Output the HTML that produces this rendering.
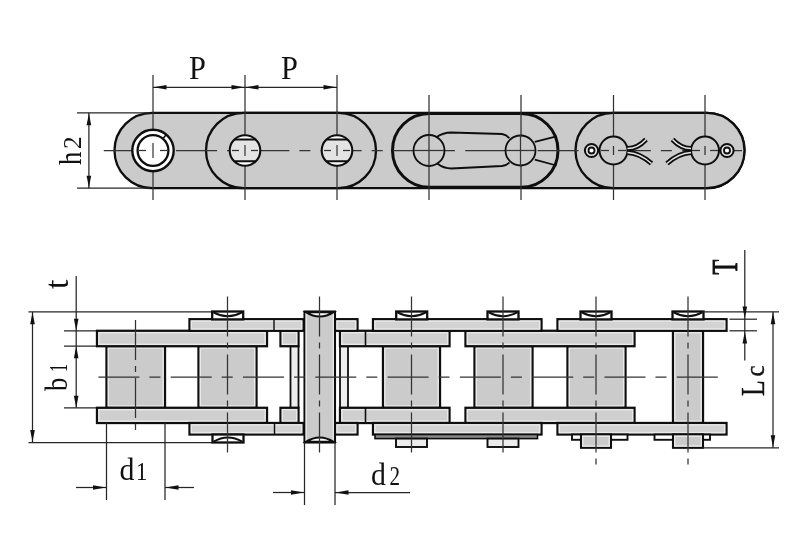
<!DOCTYPE html>
<html><head><meta charset="utf-8"><style>
html,body{margin:0;padding:0;background:#fff;width:800px;height:533px;overflow:hidden}
svg{display:block;will-change:transform}
text{font-family:"Liberation Serif",serif}
</style></head><body>
<svg width="800" height="533" viewBox="0 0 800 533"><rect x="114.5" y="112.8" width="630.0" height="75.4" rx="37.7" ry="37.7" fill="#cbcbcb" stroke="#0e0e0e" stroke-width="2.3"/>
<rect x="206" y="112.8" width="170" height="75.4" rx="37.7" ry="37.7" fill="#cbcbcb" stroke="#0e0e0e" stroke-width="2.3"/>
<rect x="392.5" y="113.5" width="165.5" height="73.8" rx="36.9" ry="36.9" fill="#cbcbcb" stroke="#0e0e0e" stroke-width="3.0"/>
<rect x="575.5" y="112.8" width="169.0" height="75.4" rx="37.7" ry="37.7" fill="#cbcbcb" stroke="#0e0e0e" stroke-width="2.3"/>
<line x1="77" y1="112.8" x2="150" y2="112.8" stroke="#262626" stroke-width="1.25"/>
<line x1="77" y1="188.2" x2="150" y2="188.2" stroke="#262626" stroke-width="1.25"/>
<line x1="103.75" y1="150.5" x2="742" y2="150.5" stroke="#333333" stroke-width="1.25" stroke-dasharray="41 10 11 10.3"/>
<line x1="153" y1="75" x2="153" y2="200" stroke="#333333" stroke-width="1.25"/>
<line x1="245" y1="75" x2="245" y2="200" stroke="#333333" stroke-width="1.25"/>
<line x1="337" y1="75" x2="337" y2="200" stroke="#333333" stroke-width="1.25"/>
<line x1="429" y1="95" x2="429" y2="200" stroke="#333333" stroke-width="1.25"/>
<line x1="521" y1="95" x2="521" y2="200" stroke="#333333" stroke-width="1.25"/>
<line x1="153" y1="87.3" x2="337" y2="87.3" stroke="#262626" stroke-width="1.25"/>
<polygon points="153.50,87.30 166.50,85.00 166.50,89.60" fill="#111"/>
<polygon points="244.50,87.30 231.50,85.00 231.50,89.60" fill="#111"/>
<polygon points="245.50,87.30 258.50,85.00 258.50,89.60" fill="#111"/>
<polygon points="336.50,87.30 323.50,85.00 323.50,89.60" fill="#111"/>
<line x1="88.9" y1="112.8" x2="88.9" y2="188.2" stroke="#262626" stroke-width="1.25"/>
<polygon points="88.90,113.30 86.60,125.30 91.20,125.30" fill="#111"/>
<polygon points="88.90,187.70 86.60,175.70 91.20,175.70" fill="#111"/>
<circle cx="153" cy="150.5" r="20.7" fill="#ffffff" stroke="#0e0e0e" stroke-width="2.4"/>
<circle cx="153" cy="150.5" r="15.4" fill="#ffffff" stroke="#0e0e0e" stroke-width="2.3"/>
<line x1="162.6" y1="139.0" x2="166.4" y2="134.6" stroke="#0e0e0e" stroke-width="1.6"/>
<line x1="153" y1="143" x2="153" y2="158" stroke="#333333" stroke-width="1.2"/>
<line x1="139" y1="150.5" x2="146" y2="150.5" stroke="#333333" stroke-width="1.25"/>
<line x1="160" y1="150.5" x2="167" y2="150.5" stroke="#333333" stroke-width="1.25"/>
<clipPath id="h245"><circle cx="245" cy="150.5" r="15.3"/></clipPath>
<circle cx="245" cy="150.5" r="15.3" fill="#ffffff" stroke="#0e0e0e" stroke-width="0"/>
<rect x="229" y="139.5" width="32" height="21.8" fill="#e4e4e4" clip-path="url(#h245)"/>
<g clip-path="url(#h245)">
<line x1="229" y1="139.5" x2="261" y2="139.5" stroke="#0e0e0e" stroke-width="2.0"/>
<line x1="229" y1="161.3" x2="261" y2="161.3" stroke="#0e0e0e" stroke-width="2.0"/>
</g>
<circle cx="245" cy="150.5" r="15.3" fill="none" stroke="#0e0e0e" stroke-width="2.1"/>
<line x1="245" y1="145" x2="245" y2="156" stroke="#333333" stroke-width="1.2"/>
<line x1="232" y1="150.5" x2="239" y2="150.5" stroke="#333333" stroke-width="1.25"/>
<line x1="251" y1="150.5" x2="258" y2="150.5" stroke="#333333" stroke-width="1.25"/>
<clipPath id="h337"><circle cx="337" cy="150.5" r="15.3"/></clipPath>
<circle cx="337" cy="150.5" r="15.3" fill="#ffffff" stroke="#0e0e0e" stroke-width="0"/>
<rect x="321" y="139.5" width="32" height="21.8" fill="#e4e4e4" clip-path="url(#h337)"/>
<g clip-path="url(#h337)">
<line x1="321" y1="139.5" x2="353" y2="139.5" stroke="#0e0e0e" stroke-width="2.0"/>
<line x1="321" y1="161.3" x2="353" y2="161.3" stroke="#0e0e0e" stroke-width="2.0"/>
</g>
<circle cx="337" cy="150.5" r="15.3" fill="none" stroke="#0e0e0e" stroke-width="2.1"/>
<line x1="337" y1="145" x2="337" y2="156" stroke="#333333" stroke-width="1.2"/>
<line x1="324" y1="150.5" x2="331" y2="150.5" stroke="#333333" stroke-width="1.25"/>
<line x1="343" y1="150.5" x2="350" y2="150.5" stroke="#333333" stroke-width="1.25"/>
<circle cx="429" cy="150.5" r="15.5" fill="#cbcbcb" stroke="#0e0e0e" stroke-width="1.8"/>
<circle cx="520.5" cy="150.5" r="15.0" fill="#cbcbcb" stroke="#0e0e0e" stroke-width="1.8"/>
<path d="M436.3,137.2 C441,134 445,132.5 451,132.5 L502,134 C505,134.5 507.5,136 509.4,138.3" fill="none" stroke="#0e0e0e" stroke-width="1.8"/>
<path d="M437.2,163.5 C441.5,166.8 446,168.5 451.3,168.5 L502,166 C505,165.5 507.5,164.5 509.4,162.5" fill="none" stroke="#0e0e0e" stroke-width="1.8"/>
<path d="M534.8,141.9 L556.5,136.3 M534.8,159.7 L556.5,165.5" fill="none" stroke="#0e0e0e" stroke-width="1.8"/>
<line x1="429" y1="135" x2="429" y2="166" stroke="#333333" stroke-width="1.25"/>
<line x1="414" y1="150.5" x2="444" y2="150.5" stroke="#333333" stroke-width="1.25"/>
<line x1="520.5" y1="135" x2="520.5" y2="166" stroke="#333333" stroke-width="1.25"/>
<line x1="506" y1="150.5" x2="535" y2="150.5" stroke="#333333" stroke-width="1.25"/>
<line x1="613.5" y1="95" x2="613.5" y2="200" stroke="#333333" stroke-width="1.25"/>
<line x1="705" y1="95" x2="705" y2="200" stroke="#333333" stroke-width="1.25"/>
<circle cx="591.5" cy="150.5" r="6.6" fill="#e4e4e4" stroke="#0e0e0e" stroke-width="2.0"/>
<circle cx="591.5" cy="150.5" r="3.0" fill="#ffffff" stroke="#0e0e0e" stroke-width="1.8"/>
<circle cx="727" cy="150.5" r="6.6" fill="#e4e4e4" stroke="#0e0e0e" stroke-width="2.0"/>
<circle cx="727" cy="150.5" r="3.0" fill="#ffffff" stroke="#0e0e0e" stroke-width="1.8"/>
<circle cx="613.5" cy="150.5" r="14" fill="#cbcbcb" stroke="#0e0e0e" stroke-width="2.0"/>
<circle cx="705" cy="150.5" r="14" fill="#cbcbcb" stroke="#0e0e0e" stroke-width="2.0"/>
<line x1="613.5" y1="146" x2="613.5" y2="155" stroke="#333333" stroke-width="1.25"/>
<line x1="601" y1="150.5" x2="609" y2="150.5" stroke="#333333" stroke-width="1.25"/>
<line x1="618" y1="150.5" x2="626" y2="150.5" stroke="#333333" stroke-width="1.25"/>
<line x1="705" y1="146" x2="705" y2="155" stroke="#333333" stroke-width="1.25"/>
<line x1="692" y1="150.5" x2="700" y2="150.5" stroke="#333333" stroke-width="1.25"/>
<line x1="710" y1="150.5" x2="718" y2="150.5" stroke="#333333" stroke-width="1.25"/>
<path d="M627.5,148.6 C634.5,148.5 640.5,145.5 646.0,139.5" fill="none" stroke="#0e0e0e" stroke-width="5.0" stroke-linecap="butt"/>
<path d="M627.5,152.4 C636.5,153.0 644.5,157.0 651.5,163.5" fill="none" stroke="#0e0e0e" stroke-width="5.0" stroke-linecap="butt"/>
<path d="M627.5,148.6 C634.5,148.5 640.5,145.5 646.0,139.5" fill="none" stroke="#e4e4e4" stroke-width="1.5" stroke-linecap="butt"/>
<path d="M627.5,152.4 C636.5,153.0 644.5,157.0 651.5,163.5" fill="none" stroke="#e4e4e4" stroke-width="1.5" stroke-linecap="butt"/>
<path d="M691,148.6 C684,148.5 678,145.5 672.5,139.5" fill="none" stroke="#0e0e0e" stroke-width="5.0" stroke-linecap="butt"/>
<path d="M691,152.4 C682,153.0 674,157.0 667,163.5" fill="none" stroke="#0e0e0e" stroke-width="5.0" stroke-linecap="butt"/>
<path d="M691,148.6 C684,148.5 678,145.5 672.5,139.5" fill="none" stroke="#e4e4e4" stroke-width="1.5" stroke-linecap="butt"/>
<path d="M691,152.4 C682,153.0 674,157.0 667,163.5" fill="none" stroke="#e4e4e4" stroke-width="1.5" stroke-linecap="butt"/>
<line x1="28.5" y1="311.8" x2="212" y2="311.8" stroke="#262626" stroke-width="1.25"/>
<line x1="28.5" y1="442.5" x2="212" y2="442.5" stroke="#262626" stroke-width="1.25"/>
<line x1="64" y1="330.8" x2="97" y2="330.8" stroke="#262626" stroke-width="1.25"/>
<line x1="64" y1="346.2" x2="106" y2="346.2" stroke="#262626" stroke-width="1.25"/>
<line x1="64" y1="407.8" x2="106" y2="407.8" stroke="#262626" stroke-width="1.25"/>
<rect x="106.5" y="346.2" width="58.5" height="61.6" fill="#cbcbcb" stroke="#0e0e0e" stroke-width="2.3"/>
<rect x="108.35" y="348.05" width="54.8" height="57.9" fill="none" stroke="#e8e8e8" stroke-width="1.4"/>
<rect x="198.5" y="346.2" width="58.0" height="61.6" fill="#cbcbcb" stroke="#0e0e0e" stroke-width="2.3"/>
<rect x="200.35" y="348.05" width="54.3" height="57.9" fill="none" stroke="#e8e8e8" stroke-width="1.4"/>
<rect x="383" y="346.2" width="57" height="61.6" fill="#cbcbcb" stroke="#0e0e0e" stroke-width="2.3"/>
<rect x="384.85" y="348.05" width="53.3" height="57.9" fill="none" stroke="#e8e8e8" stroke-width="1.4"/>
<rect x="474.5" y="346.2" width="58.0" height="61.6" fill="#cbcbcb" stroke="#0e0e0e" stroke-width="2.3"/>
<rect x="476.35" y="348.05" width="54.3" height="57.9" fill="none" stroke="#e8e8e8" stroke-width="1.4"/>
<rect x="567.5" y="346.2" width="58.0" height="61.6" fill="#cbcbcb" stroke="#0e0e0e" stroke-width="2.3"/>
<rect x="569.35" y="348.05" width="54.3" height="57.9" fill="none" stroke="#e8e8e8" stroke-width="1.4"/>
<rect x="290.5" y="346.2" width="8.0" height="61.6" fill="#eeeeee" stroke="#0e0e0e" stroke-width="1.8"/>
<rect x="340" y="346.2" width="8" height="61.6" fill="#eeeeee" stroke="#0e0e0e" stroke-width="1.8"/>
<rect x="673" y="330.8" width="30" height="92.2" fill="#cbcbcb" stroke="#0e0e0e" stroke-width="2.3"/>
<rect x="674.85" y="332.65" width="26.3" height="88.5" fill="none" stroke="#e8e8e8" stroke-width="1.4"/>
<rect x="97" y="330.8" width="170" height="15.4" fill="#cfcfcf" stroke="#0e0e0e" stroke-width="2.3"/>
<rect x="98.85" y="332.65" width="166.3" height="11.7" fill="none" stroke="#e8e8e8" stroke-width="1.4"/>
<rect x="97" y="407.8" width="170" height="15.2" fill="#cfcfcf" stroke="#0e0e0e" stroke-width="2.3"/>
<rect x="98.85" y="409.65" width="166.3" height="11.5" fill="none" stroke="#e8e8e8" stroke-width="1.4"/>
<rect x="280.5" y="330.8" width="18.0" height="15.4" fill="#cfcfcf" stroke="#0e0e0e" stroke-width="2.3"/>
<rect x="282.35" y="332.65" width="14.3" height="11.7" fill="none" stroke="#e8e8e8" stroke-width="1.4"/>
<rect x="280.5" y="407.8" width="18.0" height="15.2" fill="#cfcfcf" stroke="#0e0e0e" stroke-width="2.3"/>
<rect x="282.35" y="409.65" width="14.3" height="11.5" fill="none" stroke="#e8e8e8" stroke-width="1.4"/>
<rect x="340" y="330.8" width="109.5" height="15.4" fill="#cfcfcf" stroke="#0e0e0e" stroke-width="2.3"/>
<rect x="341.85" y="332.65" width="105.8" height="11.7" fill="none" stroke="#e8e8e8" stroke-width="1.4"/>
<rect x="340" y="407.8" width="109.5" height="15.2" fill="#cfcfcf" stroke="#0e0e0e" stroke-width="2.3"/>
<rect x="341.85" y="409.65" width="105.8" height="11.5" fill="none" stroke="#e8e8e8" stroke-width="1.4"/>
<rect x="465.5" y="330.8" width="169.0" height="15.4" fill="#cfcfcf" stroke="#0e0e0e" stroke-width="2.3"/>
<rect x="467.35" y="332.65" width="165.3" height="11.7" fill="none" stroke="#e8e8e8" stroke-width="1.4"/>
<rect x="465.5" y="407.8" width="169.0" height="15.2" fill="#cfcfcf" stroke="#0e0e0e" stroke-width="2.3"/>
<rect x="467.35" y="409.65" width="165.3" height="11.5" fill="none" stroke="#e8e8e8" stroke-width="1.4"/>
<line x1="365.5" y1="330.8" x2="365.5" y2="346.2" stroke="#0e0e0e" stroke-width="1.6"/>
<line x1="365.5" y1="407.8" x2="365.5" y2="423.0" stroke="#0e0e0e" stroke-width="1.6"/>
<rect x="189.5" y="319.2" width="114.0" height="11.6" fill="#d3d3d3" stroke="#0e0e0e" stroke-width="2.3"/>
<rect x="191.35" y="321.05" width="110.3" height="7.9" fill="none" stroke="#e8e8e8" stroke-width="1.4"/>
<rect x="189.5" y="423.0" width="114.0" height="11.5" fill="#d3d3d3" stroke="#0e0e0e" stroke-width="2.3"/>
<rect x="191.35" y="424.85" width="110.3" height="7.8" fill="none" stroke="#e8e8e8" stroke-width="1.4"/>
<rect x="335" y="319.2" width="22.5" height="11.6" fill="#d3d3d3" stroke="#0e0e0e" stroke-width="2.3"/>
<rect x="336.85" y="321.05" width="18.8" height="7.9" fill="none" stroke="#e8e8e8" stroke-width="1.4"/>
<rect x="335" y="423.0" width="22.5" height="11.5" fill="#d3d3d3" stroke="#0e0e0e" stroke-width="2.3"/>
<rect x="336.85" y="424.85" width="18.8" height="7.8" fill="none" stroke="#e8e8e8" stroke-width="1.4"/>
<rect x="373" y="319.2" width="168.5" height="11.6" fill="#d3d3d3" stroke="#0e0e0e" stroke-width="2.3"/>
<rect x="374.85" y="321.05" width="164.8" height="7.9" fill="none" stroke="#e8e8e8" stroke-width="1.4"/>
<rect x="373" y="423.0" width="168.5" height="11.5" fill="#d3d3d3" stroke="#0e0e0e" stroke-width="2.3"/>
<rect x="374.85" y="424.85" width="164.8" height="7.8" fill="none" stroke="#e8e8e8" stroke-width="1.4"/>
<rect x="557.5" y="319.2" width="169.0" height="11.6" fill="#d3d3d3" stroke="#0e0e0e" stroke-width="2.3"/>
<rect x="559.35" y="321.05" width="165.3" height="7.9" fill="none" stroke="#e8e8e8" stroke-width="1.4"/>
<rect x="557.5" y="423.0" width="169.0" height="11.5" fill="#d3d3d3" stroke="#0e0e0e" stroke-width="2.3"/>
<rect x="559.35" y="424.85" width="165.3" height="7.8" fill="none" stroke="#e8e8e8" stroke-width="1.4"/>
<line x1="274" y1="319.2" x2="274" y2="330.8" stroke="#0e0e0e" stroke-width="1.4"/>
<line x1="274.5" y1="423.0" x2="274.5" y2="434.5" stroke="#0e0e0e" stroke-width="1.4"/>
<rect x="375" y="434.5" width="162.5" height="4.1" fill="#8a8a8a" stroke="#0e0e0e" stroke-width="1.6"/>
<rect x="396.0" y="438.6" width="31.0" height="8.4" fill="#ececec" stroke="#0e0e0e" stroke-width="1.9"/>
<rect x="487.5" y="438.6" width="31.0" height="8.4" fill="#ececec" stroke="#0e0e0e" stroke-width="1.9"/>
<rect x="572" y="434.5" width="55.5" height="5.3" fill="#ffffff" stroke="#0e0e0e" stroke-width="1.9"/>
<rect x="654.5" y="434.5" width="55.5" height="5.3" fill="#ffffff" stroke="#0e0e0e" stroke-width="1.9"/>
<rect x="581" y="434.5" width="30" height="13.3" fill="#cbcbcb" stroke="#0e0e0e" stroke-width="2.1"/>
<rect x="582.75" y="436.25" width="26.5" height="9.8" fill="none" stroke="#e8e8e8" stroke-width="1.4"/>
<rect x="673" y="434.5" width="30" height="13.3" fill="#cbcbcb" stroke="#0e0e0e" stroke-width="2.1"/>
<rect x="674.75" y="436.25" width="26.5" height="9.8" fill="none" stroke="#e8e8e8" stroke-width="1.4"/>
<rect x="212.2" y="311.5" width="31.0" height="7.9" fill="#ffffff" stroke="#0e0e0e" stroke-width="2.3"/>
<path d="M213.4,312.3 Q227.7,320.0 242.0,312.3" fill="none" stroke="#0e0e0e" stroke-width="2.0"/>
<rect x="396.2" y="311.5" width="31.0" height="7.9" fill="#ffffff" stroke="#0e0e0e" stroke-width="2.3"/>
<path d="M397.4,312.3 Q411.7,320.0 426.0,312.3" fill="none" stroke="#0e0e0e" stroke-width="2.0"/>
<rect x="487.5" y="311.5" width="31.0" height="7.9" fill="#ffffff" stroke="#0e0e0e" stroke-width="2.3"/>
<path d="M488.7,312.3 Q503,320.0 517.3,312.3" fill="none" stroke="#0e0e0e" stroke-width="2.0"/>
<rect x="580.5" y="311.5" width="31.0" height="7.9" fill="#ffffff" stroke="#0e0e0e" stroke-width="2.3"/>
<path d="M581.7,312.3 Q596,320.0 610.3,312.3" fill="none" stroke="#0e0e0e" stroke-width="2.0"/>
<rect x="672.5" y="311.5" width="31.0" height="7.9" fill="#ffffff" stroke="#0e0e0e" stroke-width="2.3"/>
<path d="M673.7,312.3 Q688,320.0 702.3,312.3" fill="none" stroke="#0e0e0e" stroke-width="2.0"/>
<rect x="212.5" y="434.5" width="31.0" height="8.0" fill="#ffffff" stroke="#0e0e0e" stroke-width="2.3"/>
<path d="M213.7,441.7 Q227.7,433.5 242.3,441.7" fill="none" stroke="#0e0e0e" stroke-width="2.0"/>
<rect x="304.5" y="311.5" width="30.5" height="131.0" fill="#cbcbcb" stroke="#0e0e0e" stroke-width="2.1"/>
<rect x="306.25" y="313.25" width="27.0" height="127.5" fill="none" stroke="#e8e8e8" stroke-width="1.4"/>
<path d="M305.8,312.2 Q319.7,321 333.7,312.2 Z" fill="#ffffff" stroke="#0e0e0e" stroke-width="2.0"/>
<path d="M305.8,441.8 Q319.7,433 333.7,441.8 Z" fill="#ffffff" stroke="#0e0e0e" stroke-width="2.0"/>
<line x1="98.4" y1="377" x2="718" y2="377" stroke="#333333" stroke-width="1.25" stroke-dasharray="41 10 11 10.3"/>
<line x1="135.5" y1="320" x2="135.5" y2="431" stroke="#333333" stroke-width="1.25" stroke-dasharray="40 6 6 6"/>
<line x1="227.5" y1="296.5" x2="227.5" y2="456" stroke="#333333" stroke-width="1.25" stroke-dasharray="40 6 6 6"/>
<line x1="319.5" y1="296.5" x2="319.5" y2="456" stroke="#333333" stroke-width="1.25" stroke-dasharray="40 6 6 6"/>
<line x1="411.5" y1="296.5" x2="411.5" y2="454.5" stroke="#333333" stroke-width="1.25" stroke-dasharray="40 6 6 6"/>
<line x1="503" y1="296.5" x2="503" y2="454.5" stroke="#333333" stroke-width="1.25" stroke-dasharray="40 6 6 6"/>
<line x1="596" y1="296.5" x2="596" y2="467" stroke="#333333" stroke-width="1.25" stroke-dasharray="40 6 6 6"/>
<line x1="688" y1="296.5" x2="688" y2="467" stroke="#333333" stroke-width="1.25" stroke-dasharray="40 6 6 6"/>
<line x1="76.2" y1="276" x2="76.2" y2="407.8" stroke="#262626" stroke-width="1.25"/>
<polygon points="76.20,330.80 73.90,318.80 78.50,318.80" fill="#111"/>
<polygon points="76.20,346.20 73.90,358.20 78.50,358.20" fill="#111"/>
<polygon points="76.20,407.80 73.90,395.80 78.50,395.80" fill="#111"/>
<line x1="32.5" y1="311.8" x2="32.5" y2="442.5" stroke="#262626" stroke-width="1.25"/>
<polygon points="32.50,312.30 30.20,324.30 34.80,324.30" fill="#111"/>
<polygon points="32.50,442.00 30.20,430.00 34.80,430.00" fill="#111"/>
<line x1="106.5" y1="423" x2="106.5" y2="500" stroke="#262626" stroke-width="1.25"/>
<line x1="165" y1="423" x2="165" y2="500" stroke="#262626" stroke-width="1.25"/>
<line x1="76" y1="487.5" x2="106.5" y2="487.5" stroke="#262626" stroke-width="1.25"/>
<line x1="165" y1="487.5" x2="194" y2="487.5" stroke="#262626" stroke-width="1.25"/>
<polygon points="106.00,487.50 93.00,485.20 93.00,489.80" fill="#111"/>
<polygon points="165.50,487.50 178.50,485.20 178.50,489.80" fill="#111"/>
<line x1="304.5" y1="442.5" x2="304.5" y2="505" stroke="#262626" stroke-width="1.25"/>
<line x1="335" y1="442.5" x2="335" y2="505" stroke="#262626" stroke-width="1.25"/>
<line x1="273" y1="492.5" x2="304.5" y2="492.5" stroke="#262626" stroke-width="1.25"/>
<line x1="335" y1="492.5" x2="410" y2="492.5" stroke="#262626" stroke-width="1.25"/>
<polygon points="304.00,492.50 291.00,490.20 291.00,494.80" fill="#111"/>
<polygon points="335.50,492.50 348.50,490.20 348.50,494.80" fill="#111"/>
<line x1="703" y1="311.8" x2="779" y2="311.8" stroke="#262626" stroke-width="1.25"/>
<line x1="729.5" y1="319.2" x2="757" y2="319.2" stroke="#262626" stroke-width="1.25"/>
<line x1="729.5" y1="330.8" x2="757" y2="330.8" stroke="#262626" stroke-width="1.25"/>
<line x1="703" y1="447.8" x2="779" y2="447.8" stroke="#262626" stroke-width="1.25"/>
<line x1="744.8" y1="250" x2="744.8" y2="360.5" stroke="#262626" stroke-width="1.25"/>
<polygon points="744.80,318.50 742.50,306.50 747.10,306.50" fill="#111"/>
<polygon points="744.80,331.50 742.50,343.50 747.10,343.50" fill="#111"/>
<line x1="773" y1="311.8" x2="773" y2="447.8" stroke="#262626" stroke-width="1.25"/>
<polygon points="773.00,312.30 770.70,324.30 775.30,324.30" fill="#111"/>
<polygon points="773.00,447.30 770.70,435.30 775.30,435.30" fill="#111"/>
<text transform="translate(189,78.8) rotate(0) scale(0.92,1)" font-family="Liberation Serif" font-size="33" fill="#111" text-anchor="start">P</text>
<text transform="translate(281,78.8) rotate(0) scale(0.92,1)" font-family="Liberation Serif" font-size="33" fill="#111" text-anchor="start">P</text>
<text transform="translate(80.5,165) rotate(-90) scale(0.85,1)" font-family="Liberation Serif" font-size="31.3" fill="#111" text-anchor="start">h</text>
<text transform="translate(80.5,149) rotate(-90) scale(1.0,1)" font-family="Liberation Serif" font-size="25.4" fill="#111" text-anchor="start">2</text>
<text transform="translate(67.4,391) rotate(-90) scale(0.85,1)" font-family="Liberation Serif" font-size="31.3" fill="#111" text-anchor="start">b</text>
<text transform="translate(67.4,372) rotate(-90) scale(0.65,1)" font-family="Liberation Serif" font-size="24.6" fill="#111" text-anchor="start">1</text>
<text transform="translate(68,289) rotate(-90) scale(1.0,1)" font-family="Liberation Serif" font-size="34" fill="#111" text-anchor="start">t</text>
<text transform="translate(736.5,274.5) rotate(-90) scale(0.7,1)" font-family="Liberation Serif" font-size="35" fill="#111" stroke="#111" stroke-width="0.9" text-anchor="start">T</text>
<text transform="translate(763.8,396) rotate(-90) scale(0.78,1)" font-family="Liberation Serif" font-size="33" fill="#111" stroke="#111" stroke-width="0.4" text-anchor="start">L</text>
<text transform="translate(763.8,376.5) rotate(-90) scale(0.9,1)" font-family="Liberation Serif" font-size="28" fill="#111" stroke="#111" stroke-width="0.4" text-anchor="start">c</text>
<text transform="translate(119.5,479.5) rotate(0) scale(0.96,1)" font-family="Liberation Serif" font-size="31.1" fill="#111" text-anchor="start">d</text>
<text transform="translate(136,479.5) rotate(0) scale(0.93,1)" font-family="Liberation Serif" font-size="24.3" fill="#111" text-anchor="start">1</text>
<text transform="translate(371,484.5) rotate(0) scale(0.96,1)" font-family="Liberation Serif" font-size="31.1" fill="#111" text-anchor="start">d</text>
<text transform="translate(389.5,484.5) rotate(0) scale(0.77,1)" font-family="Liberation Serif" font-size="27.4" fill="#111" text-anchor="start">2</text></svg>
</body></html>
